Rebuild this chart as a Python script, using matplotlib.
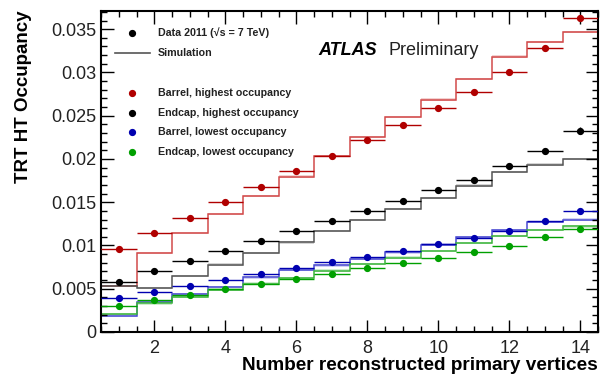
import matplotlib.pyplot as plt
import numpy as np
from matplotlib.ticker import MultipleLocator, FuncFormatter

plt.rcParams['font.family'] = ['Liberation Sans', 'DejaVu Sans']

# number of reconstructed primary vertices (bin centres) and bin edges
nvtx = np.arange(1, 15)
edges = np.arange(0.5, 15.0, 1.0)

# measured occupancy, 2011 data
barrel_high_data = [0.00956, 0.01143, 0.01322, 0.01497, 0.0168, 0.01855, 0.02035,
                    0.0222, 0.02393, 0.0259, 0.02778, 0.03002, 0.03287, 0.03634]
endcap_high_data = [0.00582, 0.00701, 0.00817, 0.00931, 0.01048, 0.01164, 0.01279,
                    0.01399, 0.01516, 0.01642, 0.01759, 0.01919, 0.02087, 0.02324]
barrel_low_data = [0.00397, 0.00466, 0.00535, 0.00601, 0.0067, 0.00736, 0.00806,
                   0.0087, 0.0094, 0.01014, 0.01087, 0.01168, 0.01283, 0.01402]
endcap_low_data = [0.00304, 0.0037, 0.00428, 0.00493, 0.00555, 0.00613, 0.00674,
                   0.00736, 0.00798, 0.00859, 0.00925, 0.00998, 0.01098, 0.01187]

# statistical errors on data
barrel_high_err = [0.0001, 0.0001, 0.0001, 0.0001, 0.0001, 0.0001, 0.0001,
                   0.0001, 0.0001, 0.0001, 0.00012, 0.00015, 0.0002, 0.0003]
endcap_high_err = [0.0001, 0.0001, 0.0001, 0.0001, 0.0001, 0.0001, 0.0001,
                   0.0001, 0.0001, 0.0001, 0.00012, 0.00015, 0.0002, 0.0004]
barrel_low_err = [0.00005] * 14
endcap_low_err = [0.00005] * 14

# simulation
barrel_high_mc = [0.00532, 0.0091, 0.01148, 0.01362, 0.01576, 0.01796, 0.02037,
                  0.02254, 0.02486, 0.02686, 0.02925, 0.03183, 0.03356, 0.03468]
endcap_high_mc = [0.0053, 0.0051, 0.0065, 0.0078, 0.0091, 0.01035, 0.01166,
                  0.01295, 0.0142, 0.01553, 0.01692, 0.01846, 0.01935, 0.01998]
barrel_low_mc = [0.0019, 0.0035, 0.0044, 0.0052, 0.0063, 0.0072, 0.0077,
                 0.0084, 0.0092, 0.0101, 0.0110, 0.0118, 0.0127, 0.0130]
endcap_low_mc = [0.0021, 0.0033, 0.0041, 0.0049, 0.0056, 0.0062, 0.0071,
                 0.0079, 0.0086, 0.0094, 0.01025, 0.0111, 0.0118, 0.0122]

labels = ["Barrel, highest occupancy", "Endcap, highest occupancy",
          "Barrel, lowest occupancy", "Endcap, lowest occupancy"]
data_cols = ["#b00000", "#000000", "#0000b0", "#00a000"]
mc_cols = ["#d24a4a", "#555555", "#4a4ad2", "#3cb43c"]

series = [
    (barrel_high_data, barrel_high_err, barrel_high_mc),
    (endcap_high_data, endcap_high_err, endcap_high_mc),
    (barrel_low_data, barrel_low_err, barrel_low_mc),
    (endcap_low_data, endcap_low_err, endcap_low_mc),
]

fig = plt.figure(figsize=(6.06, 3.78), dpi=100)
ax = fig.add_axes([0.1667, 0.1217, 0.8201, 0.8492])

band = 0.00013
for (dat, err, mc), dc, mcc in zip(series, data_cols, mc_cols):
    mc = np.array(mc)
    ax.stairs(mc + band, edges, baseline=mc - band, fill=True, color=mcc, alpha=0.25, lw=0)
    ax.stairs(mc, edges, color=mcc, lw=1.1)
for (dat, err, mc), dc in zip(series, data_cols):
    ax.errorbar(nvtx, dat, xerr=0.5, yerr=err, fmt='o', color=dc, ms=4.2,
                elinewidth=1.0, capsize=0, zorder=5)

ax.set_xlim(0.5, 14.5)
ax.set_ylim(0, 0.0371)

ax.xaxis.set_major_locator(MultipleLocator(2))
ax.xaxis.set_minor_locator(MultipleLocator(0.5))
ax.yaxis.set_major_locator(MultipleLocator(0.005))
ax.yaxis.set_minor_locator(MultipleLocator(0.001))
ax.yaxis.set_major_formatter(FuncFormatter(lambda v, p: "%g" % round(v, 4)))

ax.tick_params(which='both', direction='in', top=True, right=True, width=1.0,
               labelsize=13, labelcolor='#222222')
ax.tick_params(which='major', length=9)
ax.tick_params(which='minor', length=4.5)
ax.tick_params(axis='x', pad=6)
ax.tick_params(axis='y', pad=3)
for s in ax.spines.values():
    s.set_linewidth(1.5)

ax.set_xlabel("Number reconstructed primary vertices", fontsize=13.7,
              fontweight='bold', loc='right', labelpad=0)
ax.set_ylabel("TRT HT Occupancy", fontsize=13.5, fontweight='bold', loc='top',
              labelpad=14)

# legend
tx = 0.1147
ax.plot([0.0624], [0.9315], 'o', color='black', ms=4.2, transform=ax.transAxes)
ax.text(tx, 0.9315, "Data 2011 (\u221As = 7 TeV)", transform=ax.transAxes,
        fontsize=7.7, fontweight='bold', va='center', color='#222222')
ax.plot([0.028, 0.099], [0.8676, 0.8676], color='#555555', lw=1.2,
        transform=ax.transAxes)
ax.text(tx, 0.8676, "Simulation", transform=ax.transAxes,
        fontsize=7.7, fontweight='bold', va='center', color='#222222')
for i, (lab, dc) in enumerate(zip(labels, data_cols)):
    yy = 0.7455 - i * 0.0619
    ax.plot([0.0624], [yy], 'o', color=dc, ms=4.2, transform=ax.transAxes)
    ax.text(tx, yy, lab, transform=ax.transAxes, fontsize=7.7,
            fontweight='bold', va='center', color='#222222')

ax.text(0.4366, 0.8754, "ATLAS", transform=ax.transAxes, fontsize=13,
        fontweight='bold', fontstyle='italic', va='center')
ax.text(0.578, 0.8754, "Preliminary", transform=ax.transAxes, fontsize=13,
        va='center', color='#222222')

fig.savefig("out.png", dpi=100)
